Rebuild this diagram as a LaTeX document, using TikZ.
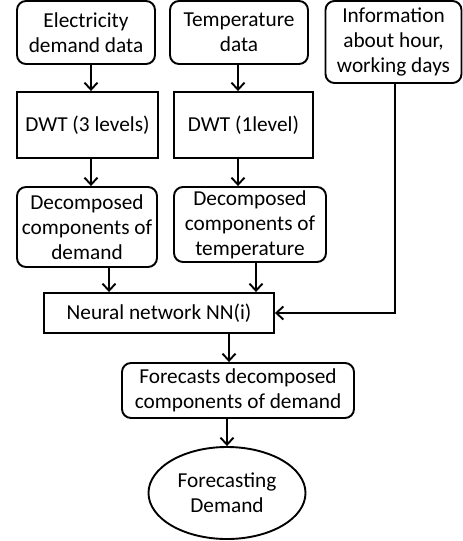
\documentclass[tikz,border=0pt]{standalone}
\usepackage{fontspec}
\setmainfont{Carlito}
\usetikzlibrary{arrows.meta,shapes.geometric}
\begin{document}
\begin{tikzpicture}[x=1pt,y=-1pt,
 box/.style={draw,line width=1.9pt,align=center,inner sep=0pt,font=\fontsize{21.3}{25}\selectfont},
 rbox/.style={box,rounded corners=9pt},
 arr/.style={line width=1.9pt,-{Straight Barb[length=7pt,width=13pt,line width=1.9pt]}}]
\useasboundingbox (0,0) rectangle (463,541);
\node[rbox,minimum width=138pt,minimum height=63pt] (elec) at (86,32.5) {Electricity\\demand data};
\node[rbox,minimum width=138pt,minimum height=63pt] (temp) at (239,32.5) {Temperature\\data};
\node[rbox,minimum width=136pt,minimum height=82pt] (info) at (393.5,42) {Information\\about hour,\\working days};
\node[box,minimum width=141pt,minimum height=66pt] (dwt3) at (87.5,125) {DWT (3 levels)};
\node[box,minimum width=139pt,minimum height=66pt] (dwt1) at (243.5,125) {DWT (1level)};
\node[rbox,minimum width=140pt,minimum height=80pt] (dec1) at (87,227) {Decomposed\\components of\\demand};
\node[rbox,minimum width=152pt,minimum height=75pt] (dec2) at (250,224.5) {Decomposed\\components of\\temperature};
\node[box,minimum width=230pt,minimum height=40pt] (nn) at (159,313) {Neural network NN(i)};
\node[rbox,minimum width=232pt,minimum height=55pt] (fc) at (238,390.5) {Forecasts decomposed\\components of demand};
\node[box,ellipse,minimum width=157pt,minimum height=92pt] (ell) at (227,493) {Forecasting\\Demand};
\draw[arr] ([xshift=5pt]elec.south) -- ([xshift=5pt]elec.south |- dwt3.north);
\draw[arr] ([xshift=-1pt]temp.south) -- ([xshift=-1pt]temp.south |- dwt1.north);
\draw[arr] ([xshift=3.5pt]dwt3.south) -- ([xshift=3.5pt]dwt3.south |- dec1.north);
\draw[arr] ([xshift=-5.5pt]dwt1.south) -- ([xshift=-5.5pt]dwt1.south |- dec2.north);
\draw[arr] ([xshift=22pt]dec1.south) -- ([xshift=22pt]dec1.south |- nn.north);
\draw[arr] ([xshift=6pt]dec2.south) -- ([xshift=6pt]dec2.south |- nn.north);
\draw[arr] ([xshift=1.5pt]info.south) |- (nn.east);
\draw[arr] ([xshift=70pt]nn.south) -- ([xshift=70pt]nn.south |- fc.north);
\draw[arr] ([xshift=-11pt]fc.south) -- (ell.north);
\end{tikzpicture}
\end{document}
